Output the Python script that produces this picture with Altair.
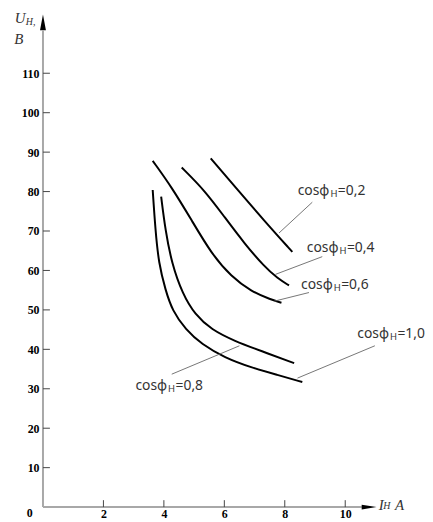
import altair as alt
import pandas as pd

# ---- data ----
x02 = [5.55, 6.40, 7.30, 8.25]
y02 = [88.4, 80.8, 72.8, 64.7]
x04 = [4.59, 5.36, 6.01, 6.67, 7.32, 7.76, 8.14]
y04 = [86.1, 80.2, 73.5, 66.8, 61.0, 58.0, 56.2]
x06 = [3.63, 4.26, 4.92, 5.57, 6.23, 6.89, 7.54, 7.89]
y06 = [87.8, 81.1, 72.7, 64.3, 58.4, 54.7, 52.6, 51.8]
x08 = [3.91, 4.05, 4.26, 4.62, 5.03, 5.57, 6.34, 7.21, 8.31]
y08 = [78.7, 70.2, 61.8, 54.0, 48.8, 45.0, 42.1, 39.6, 36.5]
x10 = [3.63, 3.72, 3.83, 4.05, 4.28, 4.72, 5.25, 6.01, 6.89, 7.76, 8.58]
y10 = [80.4, 70.2, 61.8, 55.1, 49.8, 45.0, 41.3, 37.9, 35.4, 33.5, 31.7]

series_names = ["0,2", "0,4", "0,6", "0,8", "1,0"]
series_x = [x02, x04, x06, x08, x10]
series_y = [y02, y04, y06, y08, y10]

# label anchor (start of subscript) and leader lines
label_x = [9.51, 9.81, 9.62, 4.14, 11.48]
label_y = [80.2, 65.6, 56.4, 30.8, 43.8]
leader_x1 = [7.81, 7.69, 7.65, 4.26, 8.42]
leader_y1 = [69.5, 59.0, 52.2, 33.7, 32.7]
leader_x2 = [8.91, 9.24, 8.80, 6.50, 10.98]
leader_y2 = [77.3, 63.5, 54.4, 40.9, 40.9]

y_ticks = [10, 20, 30, 40, 50, 60, 70, 80, 90, 100, 110]
x_ticks = [2, 4, 6, 8, 10]

X_MAX = 11.0
Y_MAX = 125.0
W = 335.5
H = 497.5

xs = alt.Scale(domain=[0, X_MAX], nice=False, zero=False)
ys = alt.Scale(domain=[0, Y_MAX], nice=False, zero=False)

serif = "Liberation Serif"
sans = "Noto Sans"

xa = alt.Axis(values=x_ticks, domain=False, ticks=False, grid=False, title=None,
              labelFont=serif, labelFontWeight="bold", labelFontSize=12,
              labelColor="black", labelPadding=11, labelBaseline="alphabetic")
ya = alt.Axis(values=y_ticks, domain=False, ticks=False, grid=False, title=None,
              labelFont=serif, labelFontWeight="bold", labelFontSize=12,
              labelColor="black", labelPadding=4)

def X(f):
    return alt.X(f, scale=xs, axis=xa)

def Y(f):
    return alt.Y(f, scale=ys, axis=ya)

rows = []
for n, xv, yv in zip(series_names, series_x, series_y):
    for a, b in zip(xv, yv):
        rows.append({"s": n, "x": a, "y": b})
curves_df = pd.DataFrame(rows)

curves = alt.Chart(curves_df).mark_line(
    color="black", strokeWidth=2, interpolate="basis"
).encode(x=X("x:Q"), y=Y("y:Q"), detail="s:N")

# axis lines
axes_df = pd.DataFrame({
    "x": [0, 0], "y": [0, 0], "x2": [0, 10.55], "y2": [120.8, 0]
})
axis_lines = alt.Chart(axes_df).mark_rule(color="#a8a8a8", strokeWidth=2).encode(
    x=X("x:Q"), y=Y("y:Q"), x2="x2:Q", y2="y2:Q",
)

# arrow heads
yarrow = alt.Chart(pd.DataFrame({"x": [0], "y": [122.9]})).mark_point(
    shape="M0,-1L0.375,1L-0.375,1Z", filled=True, color="black", opacity=1, size=256
).encode(x=X("x:Q"), y=Y("y:Q"))
xarrow = alt.Chart(pd.DataFrame({"x": [10.79], "y": [0]})).mark_point(
    shape="M1,0L-1,-0.33L-1,0.33Z", filled=True, color="black", opacity=1, size=225
).encode(x=X("x:Q"), y=Y("y:Q"))

# inward ticks
ytick_marks = alt.Chart(pd.DataFrame({"v": y_ticks})).mark_rule(
    color="#444", strokeWidth=1
).encode(y=Y("v:Q"), x=alt.value(0), x2=alt.value(7))
xtick_marks = alt.Chart(pd.DataFrame({"v": x_ticks})).mark_rule(
    color="#444", strokeWidth=1
).encode(x=X("v:Q"), y=alt.value(H), y2=alt.value(H - 7))

# leader lines
lead_df = pd.DataFrame({"x": leader_x1, "y": leader_y1, "x2": leader_x2, "y2": leader_y2})
leaders = alt.Chart(lead_df).mark_rule(color="#666", strokeWidth=0.9).encode(
    x=X("x:Q"), y=Y("y:Q"), x2="x2:Q", y2="y2:Q",
)

lab_df = pd.DataFrame({"x": label_x, "y": label_y, "v": ["=" + s for s in series_names],
                       "c": ["cosφ"] * 5, "h": ["Н"] * 5})
lab_cos = alt.Chart(lab_df).mark_text(
    font=sans, fontSize=14, color="#333", align="right", baseline="middle", dx=-1
).encode(text="c:N", x=X("x:Q"), y=Y("y:Q"))
lab_h = alt.Chart(lab_df).mark_text(
    font=sans, fontSize=9.5, color="#333", align="left", baseline="middle", dy=3
).encode(text="h:N", x=X("x:Q"), y=Y("y:Q"))
lab_v = alt.Chart(lab_df).mark_text(
    font=sans, fontSize=14, color="#333", align="left", baseline="middle", dx=7.5
).encode(text="v:N", x=X("x:Q"), y=Y("y:Q"))

# axis titles
title_big = alt.Chart(pd.DataFrame({
    "x": [-0.76, -0.80, 11.19, 11.80], "y": [124.1, 118.6, 0.5, 0.58],
    "t": ["U", "B", "I", "A"]})).mark_text(
    font=serif, fontStyle="italic", fontSize=15, color="#333", align="center", baseline="middle"
).encode(text="t:N", x=X("x:Q"), y=Y("y:Q"))
title_small = alt.Chart(pd.DataFrame({
    "x": [-0.57, 11.26], "y": [122.9, 0.33], "t": ["H,", "H"]})).mark_text(
    font=serif, fontStyle="italic", fontSize=10, color="#333", align="left", baseline="middle"
).encode(text="t:N", x=X("x:Q"), y=Y("y:Q"))
zero_lab = alt.Chart(pd.DataFrame({"x": [-0.44], "y": [-2.5], "t": ["0"]})).mark_text(
    font=serif, fontWeight="bold", fontSize=12, color="black", align="center", baseline="alphabetic"
).encode(text="t:N", x=X("x:Q"), y=Y("y:Q"))

chart = alt.layer(
    axis_lines, ytick_marks, xtick_marks, yarrow, xarrow,
    curves, leaders, lab_cos, lab_h, lab_v, title_big, title_small, zero_lab
).properties(
    width=W, height=H,
    autosize=alt.AutoSizeParams(type="none"),
    padding={"left": 35.3, "top": 3.8, "right": 50, "bottom": 13},
).configure_view(stroke=None)

chart.save("out.html", embed_options={"renderer": "svg", "actions": False})
